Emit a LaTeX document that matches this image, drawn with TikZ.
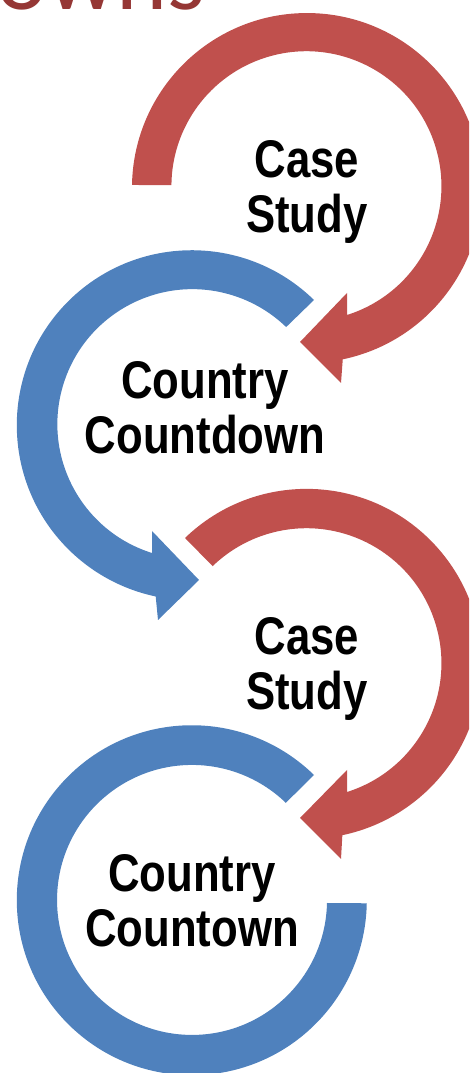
\documentclass[tikz,border=0pt]{standalone}
\usepackage{fontspec}
\setmainfont{Liberation Sans}
\newfontfamily\titlefont{Carlito}
\definecolor{ringred}{HTML}{C0504D}
\definecolor{ringblue}{HTML}{4F81BD}
\definecolor{titlered}{HTML}{953735}
\tikzset{
  x=1pt,y=1pt,
  lab/.style={font=\bfseries\fontsize{53}{55}\selectfont,align=center,text=black,xscale=0.825,transform shape,inner sep=0pt},
  titletext/.style={font=\titlefont\fontsize{97}{97}\selectfont,text=titlered,anchor=base west,inner sep=0pt},
}
\begin{document}
\begin{tikzpicture}
\useasboundingbox (0,0) rectangle (469,1073);
\clip (0,0) rectangle (469,1073);
\node[titletext] (title) at (-4,1063) {owns};
% ring 1: red, clockwise with head
\fill[ringred] (132,888) arc[start angle=179,end angle=-78.2,radius=175]
  -- (341,690) -- (300,731) -- (347,780) -- (347,758)
  arc[start angle=-72.5,end angle=179.5,radius=135] -- cycle;
% ring 2: blue, counter-clockwise with head
\fill[ringblue] (314,773) arc[start angle=45.7,end angle=258.1,radius=175]
  -- (158,453) -- (199,493) -- (152,542) -- (152,520)
  arc[start angle=252.6,end angle=46,radius=135] -- cycle;
% ring 3: red
\fill[ringred] (185,535) arc[start angle=134,end angle=-78.2,radius=175]
  -- (341,214) -- (300,255) -- (347,303) -- (347,281)
  arc[start angle=-72.5,end angle=134,radius=135] -- cycle;
% ring 4: blue, no head
\fill[ringblue] (314,298) arc[start angle=45.7,end angle=359,radius=175]
  -- (327,170) arc[start angle=358.7,end angle=46,radius=135] -- cycle;
\node[lab] (a) at (307,881) {Case\\Study};
\node[lab] (b) at (205,665) {Country\\Countdown};
\node[lab] (c) at (307,404) {Case\\Study};
\node[lab] (d) at (192,172) {Country\\Countown};
\end{tikzpicture}
\end{document}
